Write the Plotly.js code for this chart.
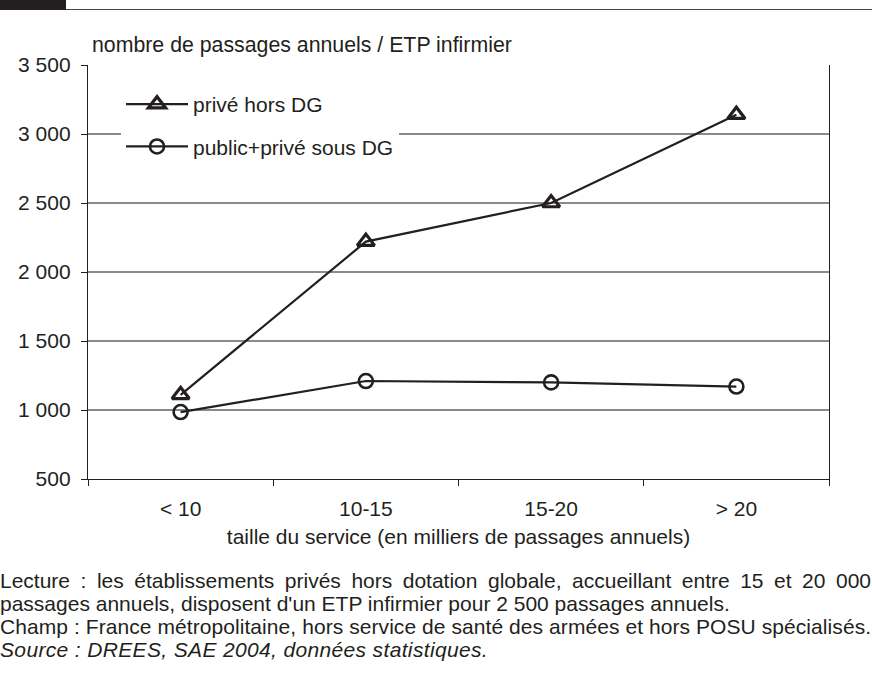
<!DOCTYPE html>
<html>
<head>
<meta charset="utf-8">
<script src="https://cdn.plot.ly/plotly-3.0.1.min.js"></script>
<style>
  html, body { margin: 0; padding: 0; background: #fff; }
  #wrap { position: relative; width: 872px; height: 682px; overflow: hidden; }
  #chart { position: absolute; left: 0; top: 0; width: 872px; height: 682px; }
  #bar { position: absolute; left: 0; top: 0; width: 66px; height: 10px; background: #231f20; }
  #rule { position: absolute; left: 66px; top: 8.5px; width: 806px; height: 1.5px; background: #444; }
  #notes { position: absolute; left: 0; top: 569px; width: 871px; font-family: "Liberation Sans", Arial, sans-serif; font-size: 21px; line-height: 23px; color: #231f20; white-space: nowrap; }
  #notes .j { text-align: justify; text-align-last: justify; white-space: normal; }
  #notes .c { letter-spacing: 0.07px; }
  #notes i { letter-spacing: 0.35px; }
</style>
</head>
<body>
<div id="wrap">
  <div id="chart"></div>
  <div id="bar"></div>
  <div id="rule"></div>
  <div id="notes">
    <div class="j">Lecture : les établissements privés hors dotation globale, accueillant entre 15 et 20 000</div>
    <div>passages annuels, disposent d'un ETP infirmier pour 2 500 passages annuels.</div>
    <div class="c">Champ : France métropolitaine, hors service de santé des armées et hors POSU spécialisés.</div>
    <div><i>Source : DREES, SAE 2004, données statistiques.</i></div>
  </div>
</div>
<script>
const categories = ["< 10", "10-15", "15-20", "> 20"];
const priveHorsDG = [1110, 2220, 2500, 3140];
const publicPriveSousDG = [985, 1210, 1200, 1170];
const seriesNames = ["privé hors DG", "public+privé sous DG"];
const yTitle = "nombre de passages annuels / ETP infirmier";
const xTitle = "taille du service (en milliers de passages annuels)";

const FONT = "Liberation Sans, Arial, sans-serif";
const INK = "#231f20";
const FS = 21;

const traces = [
  {
    x: categories, y: priveHorsDG, name: seriesNames[0], type: "scatter", mode: "lines+markers",
    line: { color: INK, width: 2.2 },
    marker: { symbol: "triangle-up-open", size: 15, color: INK, line: { color: INK, width: 3.2 } },
    legendgroup: "a"
  },
  {
    x: categories, y: publicPriveSousDG, name: seriesNames[1], type: "scatter", mode: "lines+markers",
    line: { color: INK, width: 2.2 },
    marker: { symbol: "circle-open", size: 14, color: INK, line: { color: INK, width: 2.6 } },
    legendgroup: "b"
  }
];

const W = 872, H = 682, L = 88, R = 43, T = 65, B = 203;
const pw = W - L - R, ph = H - T - B;

const layout = {
  width: W, height: H,
  margin: { l: L, r: R, t: T, b: B, pad: 0 },
  paper_bgcolor: "#fff", plot_bgcolor: "#fff",
  font: { family: FONT, size: FS, color: INK },
  separators: ", ",
  showlegend: true,
  legend: {
    x: (121 - L) / pw, y: 1 - (84 - T) / ph, xanchor: "left", yanchor: "top",
    bgcolor: "#fff", borderwidth: 0,
    font: { family: FONT, size: FS, color: INK },
    traceorder: "grouped", tracegroupgap: 12,
    itemwidth: 62
  },
  xaxis: {
    type: "category", range: [-0.5, 3.5],
    showline: true, linecolor: INK, linewidth: 1.2,
    showgrid: false, zeroline: false,
    ticks: "outside", tickson: "boundaries", ticklen: 6, tickcolor: INK, tickwidth: 1,
    tickfont: { family: FONT, size: FS, color: INK },
    ticklabelstandoff: 11,
    title: { text: xTitle, font: { family: FONT, size: FS, color: INK }, standoff: 9 },
    fixedrange: true
  },
  yaxis: {
    range: [500, 3500], dtick: 500, tick0: 500,
    separatethousands: true,
    showline: true, linecolor: INK, linewidth: 1.2, mirror: true,
    showgrid: true, gridcolor: "#8a8a8a", gridwidth: 1.2,
    zeroline: false,
    ticks: "outside", ticklen: 6, tickcolor: INK, tickwidth: 1,
    tickfont: { family: FONT, size: FS, color: INK },
    ticklabelstandoff: 6,
    fixedrange: true
  },
  annotations: [
    {
      text: yTitle, xref: "paper", yref: "paper",
      x: (90 - L) / pw, y: 1 + (T - 45) / ph, xanchor: "left", yanchor: "middle",
      showarrow: false, font: { family: FONT, size: 21.3, color: INK }
    }
  ]
};

Plotly.newPlot("chart", traces, layout, { displayModeBar: false, staticPlot: true });
</script>
</body>
</html>
